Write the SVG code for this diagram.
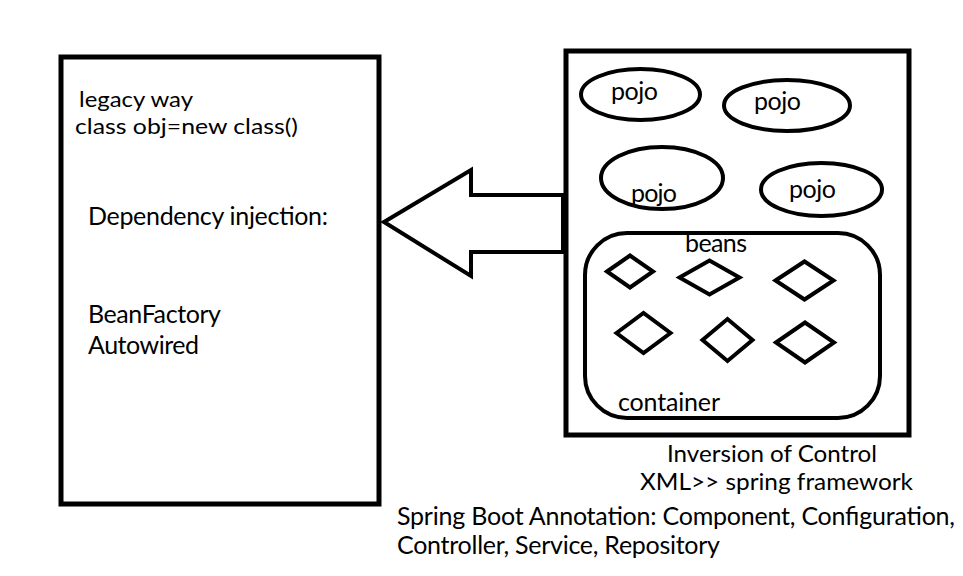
<svg xmlns="http://www.w3.org/2000/svg" width="963" height="576" viewBox="0 0 963 576">
<style>
.box{fill:none;stroke:#000;stroke-width:5}
.shape{fill:none;stroke:#000;stroke-width:4;stroke-linejoin:miter}
text{font-family:Lato,"Open Sans","Liberation Sans",sans-serif;font-size:25px;fill:#000}
.tight{font-size:23px}
.tiny{font-size:22px}
</style>
<rect width="963" height="576" fill="#fff"/>
<g id="legacy">
<rect class="box" x="61" y="57" width="318" height="447"/>
<text class="tiny" x="79" y="107" textLength="114" lengthAdjust="spacingAndGlyphs">legacy way</text>
<text class="tiny" x="75" y="134" textLength="223" lengthAdjust="spacingAndGlyphs">class obj=new class()</text>
<text x="88" y="225" textLength="240">Dependency injection:</text>
<text x="88" y="323" textLength="133">BeanFactory</text>
<text x="88" y="354" textLength="111">Autowired</text>
</g>
<g id="ioc">
<rect class="box" x="566" y="51" width="343" height="384"/>
<g id="pojo1"><ellipse class="shape" cx="640.5" cy="94.5" rx="59.5" ry="25.5"/><text x="611" y="100" textLength="47">pojo</text></g>
<g id="pojo2"><ellipse class="shape" cx="787" cy="105.5" rx="63" ry="25.5"/><text x="754" y="110" textLength="47">pojo</text></g>
<g id="pojo3"><ellipse class="shape" cx="662" cy="178" rx="61" ry="31"/><text x="631" y="202" textLength="46">pojo</text></g>
<g id="pojo4"><ellipse class="shape" cx="821.5" cy="189.5" rx="60.5" ry="26.5"/><text x="789" y="198" textLength="47">pojo</text></g>
<g id="container">
<rect class="shape" x="585" y="233" width="295" height="185" rx="42" ry="42"/>
<text x="685" y="252" textLength="62">beans</text>
<text x="618" y="411" textLength="102">container</text>
<polygon class="shape" points="607,271.5 630,255.5 653,271.5 630,287.5"/>
<polygon class="shape" points="679.5,277.5 709.5,260.5 739.5,277.5 709.5,294.5"/>
<polygon class="shape" points="775.5,280.5 804.5,261.5 833.5,280.5 804.5,299.5"/>
<polygon class="shape" points="616.5,333 643.5,313 670.5,333 643.5,353"/>
<polygon class="shape" points="702.5,340 727.5,319 752.5,340 727.5,361"/>
<polygon class="shape" points="776,342.5 805,322.5 834,342.5 805,362.5"/>
</g>
<text class="tight" x="667" y="462" textLength="210" lengthAdjust="spacingAndGlyphs">Inversion of Control</text>
<text class="tight" x="640" y="490" textLength="273" lengthAdjust="spacingAndGlyphs">XML&gt;&gt; spring framework</text>
</g>
<g id="annotations">
<text x="397" y="525" textLength="558">Spring Boot Annotation: Component, Configuration,</text>
<text x="397" y="554" textLength="323">Controller, Service, Repository</text>
</g>
<g id="connectors">
<polygon class="shape" points="384,222 471,170 471,195 563,195 563,252 471,252 471,276"/>
</g>
</svg>
